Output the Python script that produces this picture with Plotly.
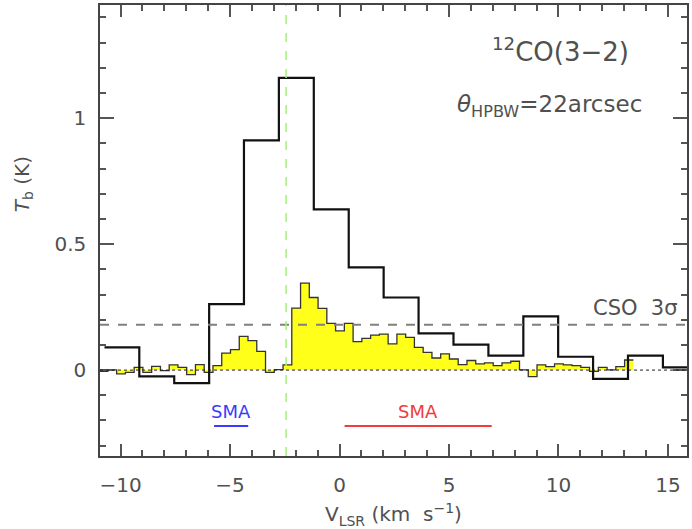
import numpy as np
import plotly.graph_objects as go

# CSO 12CO(3-2) spectrum (coarse channels): channel centres (km/s) and Tb (K)
cso_vel = [-9.94, -8.35, -6.75, -5.16, -3.57, -1.97, -0.38, 1.22, 2.81,
           4.41, 6.00, 7.60, 9.19, 10.78, 12.38, 13.97, 15.57]
cso_tb = [0.090, -0.025, -0.052, 0.262, 0.912, 1.160, 0.638, 0.408, 0.288,
          0.146, 0.101, 0.057, 0.213, 0.053, -0.035, 0.057, 0.011]

# SMA spectrum convolved to the CSO beam (fine channels)
sma_vel = [-10.78, -10.38, -9.98, -9.58, -9.18, -8.78, -8.38, -7.98, -7.58,
           -7.18, -6.78, -6.38, -5.98, -5.58, -5.18, -4.78, -4.38, -3.98,
           -3.58, -3.18, -2.78, -2.38, -1.98, -1.58, -1.18, -0.78, -0.38,
           0.02, 0.42, 0.82, 1.22, 1.62, 2.02, 2.42, 2.82, 3.22, 3.62, 4.02,
           4.42, 4.82, 5.22, 5.62, 6.02, 6.42, 6.82, 7.22, 7.62, 8.02, 8.42,
           8.82, 9.22, 9.62, 10.02, 10.42, 10.82, 11.22, 11.62, 12.02, 12.42,
           12.82, 13.22]
sma_tb = [-0.005, 0.001, -0.015, -0.009, 0.011, -0.009, 0.015, -0.002, 0.021,
          0.011, -0.018, 0.022, -0.009, 0.018, 0.067, 0.081, 0.134, 0.117,
          0.074, -0.009, 0.002, 0.021, 0.246, 0.345, 0.288, 0.245, 0.185,
          0.156, 0.185, 0.113, 0.126, 0.139, 0.143, 0.104, 0.143, 0.130,
          0.090, 0.070, 0.048, 0.064, 0.044, 0.022, 0.038, 0.025, 0.029,
          0.018, 0.029, 0.035, 0.001, -0.026, 0.021, 0.014, 0.025, 0.021,
          0.018, 0.011, -0.005, 0.011, 0.001, 0.014, 0.040]

cso_3sigma = 0.18          # K
v_sys = -2.44              # km/s, systemic velocity
sma_blue_range = [-5.73, -4.17]
sma_red_range = [0.23, 6.95]
sma_label_y = -0.163
sma_bar_y = -0.222


def step_path(centres, values):
    """Edges/values for an 'hv' histogram outline built from channel centres."""
    c = np.asarray(centres, dtype=float)
    mids = (c[:-1] + c[1:]) / 2
    edges = np.concatenate([[c[0] - (mids[0] - c[0])], mids,
                            [c[-1] + (c[-1] - mids[-1])]])
    vals = list(values) + [values[-1]]
    return edges, vals


sx, sy = step_path(sma_vel, sma_tb)
cx, cy = step_path(cso_vel, cso_tb)

GREY = "#505050"
FONT = "DejaVu Sans"

fig = go.Figure()
fig.add_trace(go.Scatter(x=sx, y=sy, mode="lines", line_shape="hv",
                         fill="tozeroy", fillcolor="#ffff1a",
                         line=dict(color="#333333", width=1.3),
                         hoverinfo="skip", showlegend=False))

# reference lines: zero level, CSO 3-sigma and systemic velocity
fig.add_hline(y=0, line=dict(color="#222222", width=1, dash="dot"), layer="above")
fig.add_hline(y=cso_3sigma, line=dict(color="#808080", width=2, dash="dash"),
              layer="above")
fig.add_vline(x=v_sys, line=dict(color="#a6f07a", width=1.5, dash="dash"),
              layer="above")

fig.add_trace(go.Scatter(x=cx, y=cy, mode="lines", line_shape="hv",
                         line=dict(color="#111111", width=2.2),
                         hoverinfo="skip", showlegend=False))

# SMA velocity coverage bars
for rng, col, lab in [(sma_blue_range, "#3b3bff", "SMA"),
                      (sma_red_range, "#f03c3c", "SMA")]:
    fig.add_shape(type="line", x0=rng[0], x1=rng[1], y0=sma_bar_y, y1=sma_bar_y,
                  line=dict(color=col, width=2))
    fig.add_annotation(x=(rng[0] + rng[1]) / 2, y=sma_label_y, text=lab,
                       xanchor="center", yanchor="middle",
                       showarrow=False, font=dict(family=FONT, size=18, color=col))

fig.add_annotation(x=0.785, y=0.9, xref="paper", yref="paper",
                   xanchor="center", yanchor="middle",
                   text="<sup>12</sup>CO(3−2)", showarrow=False,
                   font=dict(family=FONT, size=26, color=GREY))
fig.add_annotation(x=0.765, y=0.775, xref="paper", yref="paper",
                   xanchor="center", yanchor="middle",
                   text="<i>θ</i><sub>HPBW</sub>=22arcsec", showarrow=False,
                   font=dict(family=FONT, size=23, color=GREY))
fig.add_annotation(x=0.988, y=cso_3sigma, xref="paper", yref="y",
                   xanchor="right", yanchor="bottom", yshift=3,
                   text="CSO  3σ", showarrow=False,
                   font=dict(family=FONT, size=21, color=GREY))

# axis titles
fig.add_annotation(x=0.5, y=-0.13, xref="paper", yref="paper",
                   xanchor="center", yanchor="middle",
                   text="V<sub>LSR</sub> (km  s<sup>−1</sup>)", showarrow=False,
                   font=dict(family=FONT, size=20, color=GREY))
fig.add_annotation(x=-0.131, y=0.603, xref="paper", yref="paper", textangle=-90,
                   xanchor="center", yanchor="middle",
                   text="<i>T</i><sub>b</sub> (K)", showarrow=False,
                   font=dict(family=FONT, size=20, color=GREY))

axis_common = dict(showline=True, linecolor="#444444", linewidth=1.5,
                   mirror="ticks", ticks="inside", tickcolor="#555555",
                   tickwidth=1.5, showgrid=False, zeroline=False,
                   tickfont=dict(family=FONT, size=20, color=GREY))

fig.update_xaxes(range=[-10.94, 15.87], tick0=0, dtick=5, ticklen=12,
                 ticklabelstandoff=10,
                 minor=dict(dtick=1, ticklen=6, ticks="inside",
                            tickcolor="#555555", tickwidth=1.5),
                 **axis_common)
fig.update_yaxes(range=[-0.341, 1.449], tick0=0, dtick=0.5, ticklen=14,
                 ticklabelstandoff=8,
                 minor=dict(dtick=0.1, ticklen=6, ticks="inside",
                            tickcolor="#555555", tickwidth=1.5),
                 **axis_common)

fig.update_layout(width=692, height=529,
                  margin=dict(l=100, r=4, t=3, b=73),
                  plot_bgcolor="white", paper_bgcolor="white",
                  showlegend=False)

fig.write_html("out.html")
